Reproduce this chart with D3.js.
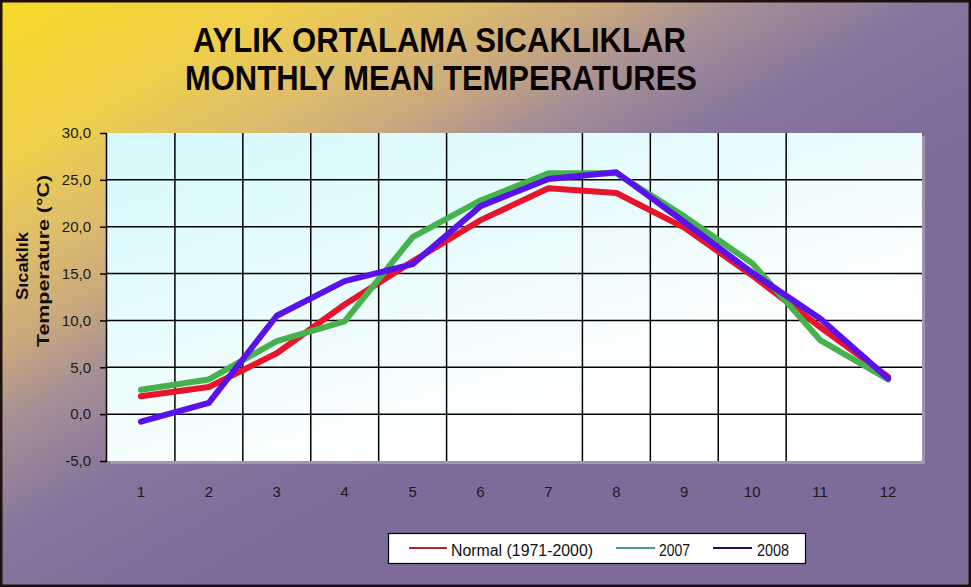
<!DOCTYPE html>
<html>
<head>
<meta charset="utf-8">
<script src="https://cdn.jsdelivr.net/npm/d3@7"></script>
<style>
html,body{margin:0;padding:0;background:#fff;}
svg{display:block;}
</style>
</head>
<body>
<svg id="chart" width="971" height="587"></svg>
<script>
// ---- data ----
const months = [1,2,3,4,5,6,7,8,9,10,11,12];
const normal = [1.9, 2.9, 6.5, 11.7, 16.3, 20.7, 24.1, 23.6, 19.9, 14.8, 9.3, 4.0];
const y2007  = [2.6, 3.7, 7.8, 9.9, 18.9, 22.8, 25.7, 25.7, 21.1, 16.1, 7.9, 3.7];
const y2008  = [-0.8, 1.2, 10.5, 14.2, 16.0, 22.2, 25.1, 25.8, 20.5, 15.1, 10.2, 3.8];
const seriesNames = ["Normal (1971-2000)", "2007", "2008"];
const yTicks = [-5, 0, 5, 10, 15, 20, 25, 30];
const gridY = [0, 5, 10, 15, 20, 25];
const missingGridBefore = [7, 12]; // vertical gridlines absent in the original
const titleLines = ["AYLIK ORTALAMA SICAKLIKLAR", "MONTHLY MEAN TEMPERATURES"];
const yTitleLines = ["Sıcaklık", "Temperature (°C)"];

const lineColors = ["#e8142c", "#46b24e", "#5a12ea"];
const legendColors = ["#b8222e", "#4c9c7e", "#2c0c55"];

const svg = d3.select("#chart");
const W = 971, H = 587;
const defs = svg.append("defs");

// background gradient
const bg = defs.append("linearGradient").attr("id","bgGrad")
  .attr("gradientUnits","userSpaceOnUse")
  .attr("x1",0).attr("y1",0).attr("x2",303).attr("y2",528);
[[0,"#f8da26"],[0.23,"#efd04a"],[0.385,"#ddbc6c"],[0.5,"#c9a87e"],[0.615,"#a48e96"],[0.77,"#87759c"],[1,"#7d6b9a"]]
  .forEach(([o,c]) => bg.append("stop").attr("offset",o).attr("stop-color",c));

const pg = defs.append("linearGradient").attr("id","plotGrad")
  .attr("x1",0).attr("y1",0).attr("x2",0.75).attr("y2",1);
[[0,"#d4f9fc"],[0.45,"#eafcfd"],[0.8,"#ffffff"],[1,"#ffffff"]]
  .forEach(([o,c]) => pg.append("stop").attr("offset",o).attr("stop-color",c));

svg.append("rect").attr("width",W).attr("height",H).attr("fill","url(#bgGrad)");
svg.append("rect").attr("x",1).attr("y",1).attr("width",W-2).attr("height",H-2)
  .attr("fill","none").attr("stroke","#1e1010").attr("stroke-width",3);

// title
const titleFont = "'Liberation Sans',Arial,sans-serif";
const titleSpec = [{x:193, y:52, len:493}, {x:185, y:90, len:512}];
titleLines.forEach((t,i) => {
  svg.append("text").attr("x",titleSpec[i].x).attr("y",titleSpec[i].y)
    .attr("font-family",titleFont).attr("font-weight","bold").attr("font-size",35)
    .attr("textLength",titleSpec[i].len).attr("lengthAdjust","spacingAndGlyphs")
    .attr("fill","#0a0505").text(t);
});

// scales
const pLeft = 107, pRight = 922, pTop = 133, pBottom = 461;
const x = d3.scaleBand().domain(months).range([pLeft,pRight]).padding(0);
const y = d3.scaleLinear().domain([-5,30]).range([pBottom,pTop]);

// plot area with slight shadow
svg.append("rect").attr("x",pLeft+3).attr("y",pTop+3).attr("width",pRight-pLeft).attr("height",pBottom-pTop)
  .attr("fill","#b9adbf").attr("opacity",0.6);
svg.append("rect").attr("x",pLeft).attr("y",pTop).attr("width",pRight-pLeft).attr("height",pBottom-pTop)
  .attr("fill","url(#plotGrad)");

// gridlines
const g = svg.append("g");
g.selectAll("line.hg").data(gridY).join("line").attr("class","hg")
  .attr("x1",pLeft).attr("x2",pRight).attr("y1",d=>y(d)).attr("y2",d=>y(d))
  .attr("stroke","#000").attr("stroke-width",1.5);
g.selectAll("line.vg").data(months.slice(1).filter(m => !missingGridBefore.includes(m))).join("line").attr("class","vg")
  .attr("x1",d=>x(d)).attr("x2",d=>x(d)).attr("y1",pTop).attr("y2",pBottom)
  .attr("stroke","#000").attr("stroke-width",1.5);

// y axis
const yAxis = svg.append("g").attr("transform",`translate(${pLeft},0)`)
  .call(d3.axisLeft(y).tickValues(yTicks).tickSize(7).tickPadding(9)
    .tickFormat(d => d.toFixed(1).replace(".",",")));
yAxis.select(".domain").attr("stroke","#000").attr("stroke-width",1.5).attr("d",`M-0.5,${pTop}V${pBottom}`);
yAxis.selectAll(".tick line").attr("stroke","#000").attr("stroke-width",1.5);
yAxis.selectAll("text").attr("font-family","'Liberation Sans',Arial,sans-serif")
  .attr("font-size",15).attr("fill","#1a1a1a");

// x axis
const xAxis = svg.append("g").attr("transform",`translate(0,${pBottom})`)
  .call(d3.axisBottom(x).tickSize(0).tickPadding(25));
xAxis.select(".domain").remove();
xAxis.selectAll("text").attr("font-family","'Liberation Sans',Arial,sans-serif")
  .attr("font-size",15).attr("fill","#1a1a1a");

// y axis title
const ySpec = [{cx:28, cy:266, len:68}, {cx:49, cy:261, len:172}];
yTitleLines.forEach((t,i) => {
  svg.append("text").attr("transform",`translate(${ySpec[i].cx},${ySpec[i].cy}) rotate(-90)`)
    .attr("text-anchor","middle")
    .attr("font-family","'Liberation Sans',Arial,sans-serif").attr("font-weight","bold")
    .attr("font-size",17).attr("fill","#111")
    .attr("textLength",ySpec[i].len).attr("lengthAdjust","spacingAndGlyphs")
    .text(t);
});

// lines
const series = [normal, y2007, y2008];
const line = d3.line().x((d,i) => x(months[i]) + x.bandwidth()/2).y(d => y(d));
svg.append("g").selectAll("path").data(series).join("path")
  .attr("d", d => line(d)).attr("fill","none")
  .attr("stroke",(d,i)=>lineColors[i]).attr("stroke-width",6)
  .attr("stroke-linejoin","round").attr("stroke-linecap","round");

// legend
const lg = svg.append("g");
lg.append("rect").attr("x",388.5).attr("y",533.5).attr("width",417).attr("height",30)
  .attr("fill","#fff").attr("stroke","#000").attr("stroke-width",1.2);
const legSpec = [{x1:409,x2:447,tx:451,len:142},{x1:616,x2:655,tx:659,len:31},{x1:713,x2:752,tx:757,len:32}];
seriesNames.forEach((n,i) => {
  lg.append("line").attr("x1",legSpec[i].x1).attr("x2",legSpec[i].x2).attr("y1",548).attr("y2",548)
    .attr("stroke",legendColors[i]).attr("stroke-width",2.2);
  lg.append("text").attr("x",legSpec[i].tx).attr("y",556)
    .attr("font-family","'Liberation Sans',Arial,sans-serif").attr("font-size",16).attr("fill","#111")
    .attr("textLength",legSpec[i].len).attr("lengthAdjust","spacingAndGlyphs").text(n);
});
</script>
</body>
</html>
